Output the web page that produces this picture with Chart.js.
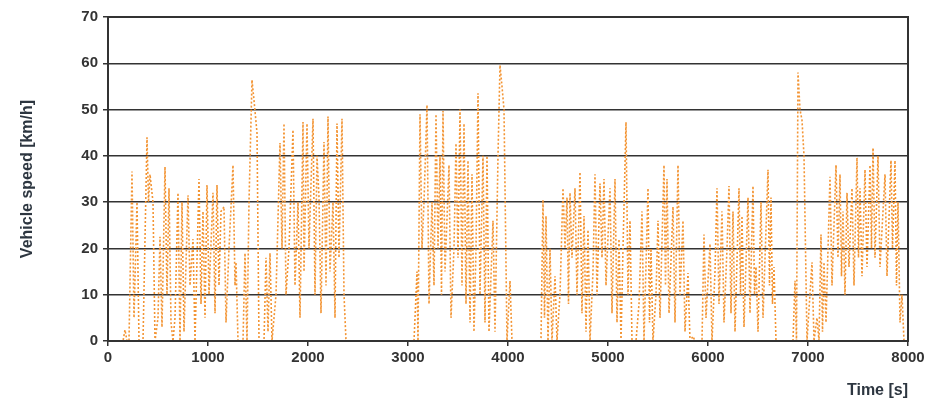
<!DOCTYPE html>
<html>
<head>
<meta charset="utf-8">
<script src="https://cdn.jsdelivr.net/npm/chart.js@4"></script>
<style>
  html, body { margin: 0; padding: 0; background: #fff; }
  #wrap { width: 934px; height: 405px; }
</style>
</head>
<body>
<div id="wrap"><canvas id="chart" width="934" height="405"></canvas></div>
<script>
// speed trace, time in s / speed in km/h
const timeS = [
  0, 150, 170, 190, 210, 240, 260, 290, 310, 350, 390, 405, 420, 450, 470, 500, 520, 540, 570, 590,
  610, 630, 650, 670, 700, 720, 740, 760, 800, 820, 850, 870, 910, 930, 950, 970, 990, 1010, 1050, 1070,
  1090, 1110, 1130, 1160, 1180, 1210, 1250, 1270, 1280, 1300, 1350, 1370, 1390, 1410, 1440, 1460, 1490, 1510, 1560, 1580,
  1600, 1620, 1640, 1680, 1720, 1740, 1760, 1780, 1810, 1850, 1870, 1900, 1920, 1950, 1960, 1990, 2010, 2050, 2070, 2090,
  2110, 2130, 2160, 2180, 2200, 2220, 2250, 2270, 2290, 2310, 2340, 2360, 2380,
  3060, 3090, 3100, 3120, 3140, 3160, 3190, 3210, 3240, 3260, 3280, 3300, 3320, 3335, 3350, 3370, 3410, 3430, 3460, 3480,
  3500, 3520, 3540, 3560, 3580, 3600, 3620, 3640, 3660, 3680, 3700, 3720, 3750, 3770, 3790, 3810, 3850, 3870, 3900, 3920,
  3940, 3960, 3990, 4020, 4040,
  4330, 4350, 4365, 4380, 4400, 4420, 4440, 4470, 4490, 4520, 4550, 4570, 4590, 4605, 4620, 4640, 4670, 4690, 4720, 4740,
  4760, 4780, 4800, 4820, 4850, 4870, 4890, 4920, 4940, 4960, 4980, 5020, 5040, 5070, 5090, 5110, 5130, 5150, 5180, 5200,
  5220, 5240, 5280, 5310, 5340, 5360, 5400, 5415, 5430, 5450, 5480, 5500, 5520, 5560, 5575, 5590, 5610, 5650, 5670, 5700,
  5720, 5750, 5770, 5800, 5820, 5850, 5870,
  5940, 5960, 5980, 6020, 6040, 6070, 6090, 6110, 6140, 6160, 6190, 6210, 6230, 6250, 6270, 6310, 6325, 6340, 6360, 6400,
  6420, 6450, 6465, 6480, 6500, 6530, 6550, 6600, 6615, 6630, 6645, 6660, 6680,
  6850, 6870, 6885, 6900, 6920, 6940, 6960, 6990, 7040, 7060, 7090, 7110, 7130, 7145, 7160, 7180, 7220, 7240, 7280, 7300,
  7320, 7335, 7350, 7370, 7390, 7410, 7440, 7460, 7490, 7505, 7520, 7540, 7570, 7590, 7620, 7635, 7650, 7670, 7700, 7720,
  7770, 7790, 7830, 7845, 7870, 7885, 7900, 7920, 7940, 7960, 8000
];
const speedKmh = [
  0, 0, 2.4, 0, 0, 36.6, 5, 30, 0, 0, 44, 30, 36, 30, 0, 5, 22.5, 3, 37.6, 10,
  33, 4, 0, 5, 32, 0, 30, 2, 31.5, 12, 22, 0, 35, 8, 28, 5, 33.7, 10, 32, 6,
  33.7, 12, 28, 29, 4, 20, 38, 12, 17, 0, 0, 19, 0, 30, 56.4, 52, 45, 0, 0, 18,
  2, 19, 0, 10, 42.8, 20, 47, 10, 20, 45.6, 12, 30, 5, 47.3, 15, 47, 20, 48, 10, 40,
  31, 6, 43, 12, 48.5, 15, 30, 5, 47, 18, 48, 10, 0,
  0, 15, 0, 49, 20, 30, 51, 8, 30, 12, 49, 20, 40, 10, 49.7, 15, 38, 5, 20, 42.7,
  18, 50, 12, 47, 8, 39, 4, 36, 2, 20, 53.5, 10, 40, 4, 40, 2, 26, 2, 40, 59.6,
  55, 50, 0, 13, 0,
  0, 30.5, 5, 27, 0, 20, 0, 14, 0, 10, 33, 20, 31, 8, 32, 18, 33, 10, 36.5, 6,
  27, 2, 24, 0, 15, 36, 10, 34, 18, 35, 12, 33, 6, 35, 4, 22, 0, 20, 47.3, 10,
  26, 0, 0, 8, 28, 0, 33, 4, 20, 0, 10, 26, 5, 38, 12, 35, 6, 29, 4, 38,
  10, 26, 2, 14.7, 0, 1, 0,
  0, 23, 5, 21, 0, 15, 33, 8, 28, 4, 20, 33.5, 6, 28, 2, 33, 10, 27, 3, 31,
  6, 33.5, 10, 16, 2, 30, 5, 37, 12, 31, 8, 16, 0,
  0, 13, 0, 58, 50, 47.7, 40, 0, 17, 0, 5, 0, 23, 2, 17, 4, 35.5, 12, 38, 18,
  36, 14, 28, 10, 32, 16, 33, 12, 39.6, 18, 33, 14, 37, 16, 38, 20, 41.7, 18, 40, 16,
  36, 14, 39, 20, 39, 12, 30, 4, 10, 0, 0
];
const yTicks = [0, 10, 20, 30, 40, 50, 60, 70];
const xTicks = [0, 1000, 2000, 3000, 4000, 5000, 6000, 7000, 8000];

const points = timeS.map((t, i) => ({ x: t, y: speedKmh[i] }));

const frame = {
  id: 'frame',
  afterDraw(chart) {
    const a = chart.chartArea;
    const c = chart.ctx;
    c.save();
    c.strokeStyle = '#333';
    c.lineWidth = 2;
    c.strokeRect(a.left, a.top, a.right - a.left, a.bottom - a.top);
    c.restore();
  }
};

new Chart(document.getElementById('chart'), {
  type: 'line',
  data: {
    datasets: [{
      data: points,
      borderColor: '#f39433',
      borderWidth: 1.6,
      borderDash: [2, 2],
      pointRadius: 0,
      tension: 0
    }]
  },
  options: {
    responsive: false,
    animation: false,
    layout: { padding: { left: 18, right: 26, top: 17, bottom: 0 } },
    plugins: { legend: { display: false }, tooltip: { enabled: false } },
    scales: {
      x: {
        type: 'linear',
        min: 0, max: 8000,
        afterBuildTicks: (s) => { s.ticks = xTicks.map(v => ({ value: v })); },
        afterFit: (s) => { s.height = 64; },
        grid: { drawOnChartArea: false, drawTicks: true, tickLength: 5, color: '#333', lineWidth: 1.5 },
        border: { color: '#333', width: 2 },
        ticks: {
          color: '#333', font: { family: 'Liberation Sans', size: 15, weight: 'bold' },
          padding: 3, maxRotation: 0,
          callback: (v) => String(v)
        },
        title: {
          display: true, text: 'Time [s]', align: 'end',
          color: '#2d3640', font: { family: 'Liberation Sans', size: 16, weight: 'bold' },
          padding: { top: 0, bottom: 5 }
        }
      },
      y: {
        min: 0, max: 70,
        afterBuildTicks: (s) => { s.ticks = yTicks.map(v => ({ value: v })); },
        afterFit: (s) => { s.width = 90; },
        grid: { color: '#333', lineWidth: 1.5, tickLength: 5 },
        border: { color: '#333', width: 2 },
        ticks: { color: '#333', font: { family: 'Liberation Sans', size: 15, weight: 'bold' }, padding: 5 },
        title: {
          display: true, text: 'Vehicle speed [km/h]',
          color: '#2d3640', font: { family: 'Liberation Sans', size: 16, weight: 'bold' },
          padding: { top: 0, bottom: 0 }
        }
      }
    }
  },
  plugins: [frame]
});
</script>
</body>
</html>
